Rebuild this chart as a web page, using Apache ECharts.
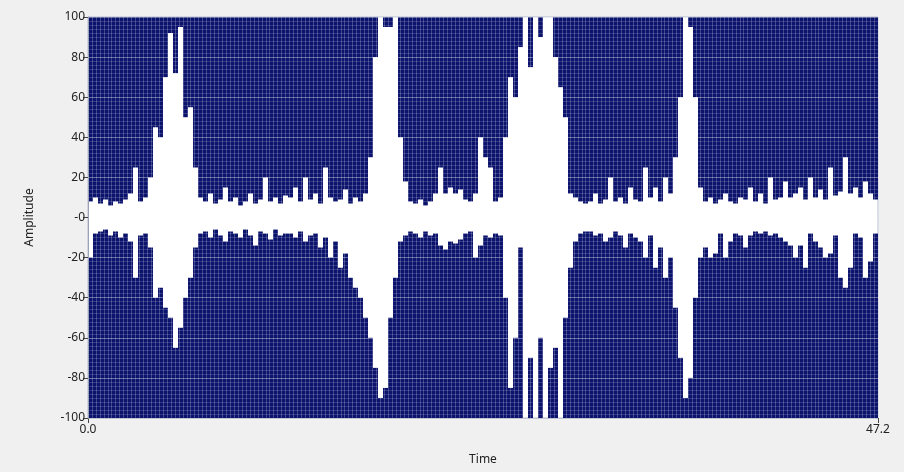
<!DOCTYPE html>
<html>
<head>
<meta charset="utf-8">
<script src="https://cdn.jsdelivr.net/npm/echarts@6/dist/echarts.min.js"></script>
<style>
html, body { margin: 0; padding: 0; background: #f0f0f0; }
#chart { width: 904px; height: 472px; }
</style>
</head>
<body>
<div id="chart"></div>
<script>
// time range of the record (s)
const timeMin = 0;
const timeMax = 47.2;
const yTicks = [-100, -80, -60, -40, -20, 0, 20, 40, 60, 80, 100];

// one entry per pixel slice: lower end of the dark stroke in the upper half
// (100 = nothing drawn there)
const upperEdge = [
  8, 10, 7, 9, 6, 8, 7, 9, 12, 25, 8, 10, 20, 45, 40, 70, 92, 72, 95, 50,
  55, 25, 10, 8, 12, 7, 9, 15, 8, 10, 6, 8, 12, 7, 9, 20, 8, 10, 7, 11,
  10, 15, 8, 20, 9, 12, 7, 25, 10, 8, 9, 14, 7, 10, 8, 12, 30, 80, 100, 95,
  95, 100, 40, 18, 8, 7, 9, 6, 8, 12, 25, 12, 15, 12, 14, 9, 8, 12, 40, 30,
  25, 8, 10, 40, 70, 60, 85, 100, 75, 100, 90, 100, 100, 80, 65, 50, 12, 10, 8, 7,
  8, 12, 7, 9, 20, 8, 10, 7, 15, 9, 8, 25, 10, 15, 8, 20, 12, 30, 60, 100,
  95, 60, 15, 8, 10, 7, 9, 12, 8, 7, 10, 9, 15, 8, 12, 7, 20, 9, 10, 18,
  10, 12, 15, 9, 20, 10, 14, 9, 25, 11, 13, 30, 12, 15, 10, 18, 12, 9
];

// upper end of the dark stroke in the lower half (-100 = nothing drawn there)
const lowerEdge = [
  -20, -8, -7, -6, -9, -7, -10, -8, -12, -30, -9, -8, -15, -40, -35, -45, -50, -65, -55, -40,
  -30, -15, -8, -7, -10, -6, -9, -12, -7, -8, -10, -6, -9, -14, -7, -8, -11, -6, -9, -8,
  -8, -10, -7, -12, -9, -8, -15, -10, -20, -12, -25, -18, -30, -35, -40, -50, -60, -75, -90, -85,
  -50, -30, -12, -9, -7, -8, -10, -7, -9, -8, -14, -16, -12, -13, -11, -8, -7, -20, -14, -9,
  -10, -8, -9, -40, -85, -60, -15, -100, -70, -100, -60, -100, -75, -65, -100, -50, -25, -12, -8, -7,
  -7, -9, -8, -12, -10, -7, -9, -15, -8, -10, -12, -20, -9, -25, -15, -30, -20, -45, -70, -90,
  -80, -40, -20, -15, -20, -18, -8, -20, -12, -8, -9, -15, -9, -7, -8, -7, -9, -8, -10, -12,
  -14, -20, -14, -25, -8, -12, -15, -20, -18, -9, -30, -35, -25, -8, -10, -30, -22, -8
];

const step = (timeMax - timeMin) / upperEdge.length;
const samples = upperEdge.map((u, i) => [timeMin + (i + 0.5) * step, u, lowerEdge[i]]);

const navy = "#0b136c";
const font = "Noto Sans";

const chart = echarts.init(document.getElementById("chart"));
chart.setOption({
  backgroundColor: "#f0f0f0",
  animation: false,
  grid: {
    left: 88,
    right: 26,
    top: 17,
    bottom: 54,
    show: true,
    backgroundColor: "#ffffff",
    borderColor: "#b4bbcf",
    borderWidth: 1
  },
  xAxis: [
    {
      type: "value",
      min: timeMin,
      max: timeMax,
      interval: timeMax - timeMin,
      name: "Time",
      nameLocation: "middle",
      nameGap: 36,
      nameTextStyle: { color: "#222", fontFamily: font, fontSize: 12 },
      axisLine: { show: true, onZero: false, lineStyle: { color: "#9aa2ba" } },
      axisTick: { show: true, length: 5, lineStyle: { color: "#444" } },
      axisLabel: {
        color: "#222",
        fontFamily: font,
        fontSize: 12,
        margin: 6,
        showMaxLabel: true,
        formatter: v => v.toFixed(1)
      },
      splitLine: { show: false }
    },
    {
      // fine vertical grid drawn over the waveform
      type: "value",
      min: timeMin,
      max: timeMax,
      interval: 0.236,
      position: "bottom",
      z: 10,
      axisLine: { show: false, onZero: false },
      axisTick: { show: false },
      axisLabel: { show: false },
      splitLine: { show: true, lineStyle: { color: "rgba(255,255,255,0.22)", width: 1 } }
    }
  ],
  yAxis: {
    type: "value",
    min: yTicks[0],
    max: yTicks[yTicks.length - 1],
    interval: 20,
    z: 10,
    name: "Amplitude",
    nameLocation: "middle",
    nameGap: 52,
    nameTextStyle: { color: "#222", fontFamily: font, fontSize: 12 },
    axisLine: { show: true, onZero: false, lineStyle: { color: "#9aa2ba" } },
    axisTick: { show: true, length: 5, lineStyle: { color: "#444" } },
    axisLabel: {
      color: "#222",
      fontFamily: font,
      fontSize: 12,
      margin: 3,
      formatter: v => (v === 0 ? "-0" : String(v))
    },
    splitLine: { show: true, lineStyle: { color: "rgba(255,255,255,0.38)", width: 1 } },
    minorTick: { show: false, splitNumber: 10 },
    minorSplitLine: { show: true, lineStyle: { color: "rgba(255,255,255,0.16)", width: 1 } }
  },
  series: [
    {
      type: "custom",
      xAxisIndex: 0,
      data: samples,
      encode: { x: 0, y: [1, 2] },
      renderItem(params, api) {
        const t = api.value(0);
        const children = [];
        const up = api.value(1);
        const lo = api.value(2);
        if (up < 100) {
          const a = api.coord([t - step / 2, 100]);
          const b = api.coord([t + step / 2, up]);
          children.push({
            type: "rect",
            shape: { x: a[0], y: a[1], width: b[0] - a[0], height: b[1] - a[1] },
            style: { fill: navy }
          });
        }
        if (lo > -100) {
          const a = api.coord([t - step / 2, lo]);
          const b = api.coord([t + step / 2, -100]);
          children.push({
            type: "rect",
            shape: { x: a[0], y: a[1], width: b[0] - a[0], height: b[1] - a[1] },
            style: { fill: navy }
          });
        }
        return { type: "group", children };
      }
    }
  ]
});
</script>
</body>
</html>
